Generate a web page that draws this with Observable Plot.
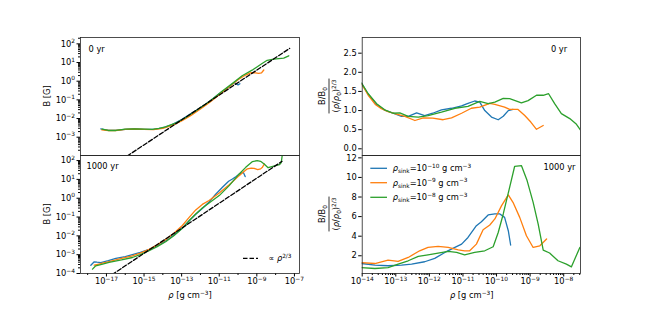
<!DOCTYPE html>
<html>
<head>
<meta charset="utf-8">
<script src="https://cdn.jsdelivr.net/npm/d3@7"></script>
<script src="https://cdn.jsdelivr.net/npm/@observablehq/plot@0.6"></script>
<style>
  html, body { margin: 0; padding: 0; background: #fff; }
  #fig { position: relative; width: 645px; height: 312px; background: #fff; overflow: hidden; font-family: "DejaVu Sans", sans-serif; }
  #fig svg { position: absolute; overflow: visible; background: transparent; }
</style>
</head>
<body>
<div id="fig"></div>
<script>
// ---------- DATA (log10 of density in g cm^-3; log10 of B in G, or B/B0 ratio) ----------
const seriesNames = ["rho_sink=1e-10", "rho_sink=1e-9", "rho_sink=1e-8"];
const seriesColors = ["#1f77b4", "#ff7f0e", "#2ca02c"];
const legendExponents = ["−10", "−9", "−8"];

// Panel: B vs rho, 0 yr
const b0_logRho_m10 = [-17.3,-16.9,-16.5,-16.0,-15.5,-15.0,-14.5,-14.0,-13.5,-13.0,-12.5,-12.0,-11.5,-11.0,-10.5,-10.2,-10.0,-9.9];
const b0_logB_m10   = [-2.55,-2.63,-2.63,-2.58,-2.56,-2.58,-2.58,-2.50,-2.33,-2.05,-1.74,-1.42,-1.07,-0.67,-0.31,-0.08,-0.20,-0.14];
const b0_logRho_m9  = [-17.25,-16.9,-16.5,-16.0,-15.5,-15.0,-14.5,-14.0,-13.5,-13.0,-12.5,-12.0,-11.5,-11.0,-10.5,-10.0,-9.6,-9.3,-9.07,-8.9,-8.75,-8.63];
const b0_logB_m9    = [-2.60,-2.64,-2.64,-2.58,-2.56,-2.58,-2.59,-2.53,-2.37,-2.13,-1.83,-1.49,-1.13,-0.72,-0.33,0.08,0.33,0.46,0.45,0.42,0.44,0.60];
const b0_logRho_m8  = [-17.23,-16.9,-16.5,-16.0,-15.5,-15.0,-14.57,-14.2,-13.86,-13.33,-12.8,-12.27,-11.56,-10.85,-10.31,-9.78,-9.25,-8.72,-8.45,-8.1,-7.83,-7.57,-7.30];
const b0_logB_m8    = [-2.57,-2.64,-2.64,-2.57,-2.55,-2.57,-2.58,-2.53,-2.45,-2.25,-1.96,-1.61,-1.11,-0.54,-0.13,0.29,0.59,0.95,1.12,1.18,1.21,1.24,1.36];
const ref0_logRho   = [-16.2, -7.25];
const ref0_logB     = [-4.21, 1.76];

// Panel: B vs rho, 1000 yr
const b1_logRho_m10 = [-17.83,-17.65,-17.5,-17.3,-16.9,-16.5,-16.0,-15.62,-15.2,-14.73,-14.3,-13.85,-13.4,-12.96,-12.6,-12.25,-11.9,-11.54,-11.2,-10.83,-10.5,-10.3,-10.1,-9.94,-9.85,-9.72,-9.62];
const b1_logB_m10   = [-3.56,-3.38,-3.40,-3.42,-3.32,-3.20,-3.10,-3.00,-2.88,-2.72,-2.52,-2.27,-1.95,-1.58,-1.20,-0.85,-0.55,-0.20,0.20,0.58,0.90,1.02,1.15,1.28,1.32,1.38,1.15];
const b1_logRho_m9  = [-17.65,-17.4,-17.21,-16.8,-16.2,-15.62,-15.2,-14.73,-14.3,-13.85,-13.4,-12.96,-12.6,-12.25,-11.9,-11.54,-11.0,-10.47,-9.94,-9.7,-9.5,-9.3,-9.14,-8.95,-8.8,-8.7,-8.6];
const b1_logB_m9    = [-3.56,-3.50,-3.45,-3.35,-3.20,-3.06,-2.92,-2.72,-2.48,-2.20,-1.85,-1.45,-1.02,-0.62,-0.33,-0.12,0.28,0.72,1.20,1.40,1.56,1.60,1.59,1.52,1.56,1.65,1.82];
const b1_logRho_m8  = [-17.74,-17.57,-17.2,-16.86,-16.2,-15.62,-15.2,-14.73,-14.3,-13.85,-13.4,-12.96,-12.6,-12.25,-11.9,-11.54,-11.0,-10.47,-9.94,-9.59,-9.23,-8.98,-8.8,-8.61,-8.4,-8.2,-8.0,-7.8,-7.7,-7.62];
const b1_logB_m8    = [-3.77,-3.59,-3.50,-3.41,-3.28,-3.15,-3.00,-2.79,-2.57,-2.31,-1.98,-1.60,-1.20,-0.84,-0.52,-0.25,0.14,0.67,1.29,1.64,1.95,2.00,1.96,1.82,1.62,1.68,1.73,1.78,1.90,2.50];
const ref1_logRho   = [-17.0, -7.66];
const ref1_logB     = [-4.26, 1.96];

// Panel: normalised B, 0 yr
const n0_logRho_m10 = [-14.02,-13.82,-13.57,-13.33,-13.08,-12.83,-12.63,-12.38,-12.14,-11.9,-11.64,-11.34,-11.04,-10.85,-10.65,-10.50,-10.35,-10.15,-9.95,-9.80,-9.65,-9.51];
const n0_val_m10    = [1.72,1.42,1.16,1.01,0.93,0.85,0.85,0.94,0.87,0.93,1.02,1.06,1.12,1.19,1.25,1.22,1.00,0.83,0.76,0.85,1.00,1.03];
const n0_logRho_m9  = [-14.02,-13.82,-13.6,-13.43,-13.23,-13.03,-12.73,-12.43,-12.18,-11.9,-11.59,-11.34,-11.04,-10.75,-10.50,-10.20,-10.05,-9.76,-9.61,-9.36,-9.16,-8.98,-8.81,-8.61];
const n0_val_m9     = [1.70,1.40,1.15,1.05,0.97,0.92,0.85,0.74,0.81,0.80,0.76,0.81,0.93,1.06,1.09,1.19,1.16,1.09,1.03,1.03,0.87,0.70,0.51,0.61];
const n0_logRho_m8  = [-14.02,-13.82,-13.57,-13.33,-13.08,-12.88,-12.63,-12.33,-12.04,-11.64,-11.24,-10.85,-10.50,-10.25,-10.05,-9.80,-9.61,-9.26,-9.06,-8.81,-8.61,-8.45,-8.27,-8.07,-7.82,-7.62,-7.49];
const n0_val_m8     = [1.72,1.44,1.18,1.02,0.93,0.94,0.85,0.83,0.87,0.96,1.06,1.11,1.24,1.18,1.22,1.32,1.31,1.20,1.26,1.40,1.40,1.44,1.18,0.92,0.79,0.64,0.48];

// Panel: normalised B, 1000 yr
const n1_logRho_m10 = [-14.02,-13.62,-13.23,-12.83,-12.53,-12.14,-11.84,-11.54,-11.24,-11.04,-10.85,-10.60,-10.45,-10.25,-10.05,-9.90,-9.76,-9.65,-9.58];
const n1_val_m10    = [1.21,1.05,0.98,1.05,1.15,1.39,1.73,2.34,2.85,3.19,3.87,5.07,5.48,6.17,6.27,6.27,5.92,4.56,3.10];
const n1_logRho_m9  = [-14.02,-13.62,-13.23,-12.93,-12.63,-12.29,-12.04,-11.74,-11.44,-11.14,-10.95,-10.80,-10.60,-10.40,-10.20,-10.05,-9.85,-9.65,-9.51,-9.31,-9.11,-8.91,-8.71,-8.51];
const n1_val_m9     = [1.31,1.21,1.56,1.42,1.83,2.51,2.85,2.95,2.85,2.61,2.51,2.51,3.19,4.66,5.14,5.76,7.12,8.21,7.46,5.92,4.05,2.85,3.02,3.71];
const n1_logRho_m8  = [-14.02,-13.62,-13.23,-12.93,-12.63,-12.33,-12.04,-11.74,-11.44,-11.19,-10.95,-10.65,-10.35,-10.10,-9.95,-9.80,-9.61,-9.46,-9.26,-9.09,-8.91,-8.76,-8.61,-8.42,-8.17,-7.92,-7.77,-7.52];
const n1_val_m8     = [0.80,0.70,0.80,1.15,1.49,1.93,2.10,2.28,2.44,2.34,2.10,2.34,2.51,2.92,4.38,6.27,8.99,11.14,11.21,9.68,7.46,5.24,2.58,2.28,1.49,1.15,0.87,2.85];

// Tick values
const leftXTickExp   = [-17,-15,-13,-11,-9,-7];
const leftXMinorExp  = [-18,-16,-14,-12,-10,-8];
const leftYTopExp    = [-3,-2,-1,0,1,2];
const leftYBotExp    = [-4,-3,-2,-1,0,1,2];
const rightXTickExp  = [-14,-13,-12,-11,-10,-9,-8];
const rightTopYTicks = [0, 0.5, 1.0, 1.5, 2.0, 2.5];
const rightBotYTicks = [2, 4, 6, 8, 10, 12];
const panelLabels = ["0 yr", "1000 yr"];

// ---------- HELPERS ----------
const fig = document.getElementById("fig");
const logRows = (lx, ly) => lx.map((v, i) => ({x: 10 ** v, y: 10 ** ly[i]}));
const linRows = (lx, vy) => lx.map((v, i) => ({x: 10 ** v, y: vy[i]}));
const powFmt = v => "10^" + Math.round(Math.log10(v));
const minorLog = (e0, e1, lo, hi) => {
  const out = [];
  for (let e = e0; e <= e1; e++) for (let k = 2; k <= 9; k++) { const v = k * 10 ** e; if (v >= lo && v <= hi) out.push(v); }
  return out;
};
const STYLE = {fontFamily: "DejaVu Sans", fontSize: "8.3px", background: "transparent", color: "black", overflow: "visible"};
const FRAME = Plot.frame({stroke: "#222", strokeWidth: 0.8});
const seriesLines = (rowsList) => rowsList.map((r, i) =>
  Plot.line(r, {x: "x", y: "y", stroke: seriesColors[i], strokeWidth: 1.3, clip: true}));

function place(svg, left, top) {
  svg.style.position = "absolute";
  svg.style.left = left + "px";
  svg.style.top = top + "px";
  fig.appendChild(svg);
  mathify(svg);
  return svg;
}
function mathify(svg) {
  d3.select(svg).selectAll("text").each(function () {
    const m = /^10\^(-?\d+)$/.exec(this.textContent);
    if (!m) return;
    const e = m[1].replace("-", "−");
    const t = d3.select(this);
    t.text("");
    t.append("tspan").text("10");
    t.append("tspan").attr("dy", "-3.4").attr("font-size", "5.9px").text(e);
  });
}

// ---------- PANELS ----------
const xDomL = [10 ** -18.38, 10 ** -6.73];
const xDomR = [1e-14, 10 ** -7.5];

// Left top: B, 0 yr
place(Plot.plot({
  width: 330, height: 160, marginLeft: 80, marginRight: 31, marginTop: 37, marginBottom: 5,
  style: STYLE,
  x: {type: "log", domain: xDomL, axis: null},
  y: {type: "log", domain: [10 ** -3.98, 10 ** 2.34], axis: null},
  marks: [
    ...seriesLines([logRows(b0_logRho_m10, b0_logB_m10), logRows(b0_logRho_m9, b0_logB_m9), logRows(b0_logRho_m8, b0_logB_m8)]),
    Plot.line(logRows(ref0_logRho, ref0_logB), {x: "x", y: "y", stroke: "black", strokeWidth: 1.3, strokeDasharray: "4.5,2", clip: true}),
    Plot.axisY(leftYTopExp.map(e => 10 ** e), {tickFormat: powFmt, tickSize: 3.5, tickPadding: 2, label: null}),
    Plot.axisY(minorLog(-4, 2, 10 ** -3.98, 10 ** 2.34), {tickFormat: () => "", tickSize: 2, label: null}),
    FRAME,
    Plot.text([panelLabels[0]], {text: d => d, frameAnchor: "top-left", dx: 8, dy: 12, lineAnchor: "middle", textAnchor: "start", fontSize: 8.3})
  ]
}), 0, 0);

// Left bottom: B, 1000 yr
place(Plot.plot({
  width: 330, height: 162, marginLeft: 80, marginRight: 31, marginTop: 5, marginBottom: 39,
  style: STYLE,
  x: {type: "log", domain: xDomL, axis: null},
  y: {type: "log", domain: [1e-4, 10 ** 2.27], axis: null},
  marks: [
    ...seriesLines([logRows(b1_logRho_m10, b1_logB_m10), logRows(b1_logRho_m9, b1_logB_m9), logRows(b1_logRho_m8, b1_logB_m8)]),
    Plot.line(logRows(ref1_logRho, ref1_logB), {x: "x", y: "y", stroke: "black", strokeWidth: 1.3, strokeDasharray: "4.5,2", clip: true}),
    Plot.axisY(leftYBotExp.map(e => 10 ** e), {tickFormat: powFmt, tickSize: 3.5, tickPadding: 2, label: null}),
    Plot.axisY(minorLog(-4, 2, 1e-4, 10 ** 2.27), {tickFormat: () => "", tickSize: 2, label: null}),
    Plot.axisX(leftXTickExp.map(e => 10 ** e), {tickFormat: powFmt, tickSize: 3.5, tickPadding: 1.5, label: null}),
    Plot.axisX(leftXMinorExp.map(e => 10 ** e), {tickFormat: () => "", tickSize: 2, label: null}),
    FRAME,
    Plot.text([panelLabels[1]], {text: d => d, frameAnchor: "top-left", dx: 6, dy: 10.7, lineAnchor: "middle", textAnchor: "start", fontSize: 8.3})
  ]
}), 0, 150);

// Right top: normalised, 0 yr
place(Plot.plot({
  width: 315, height: 160, marginLeft: 31.7, marginRight: 65, marginTop: 37, marginBottom: 5,
  style: STYLE,
  x: {type: "log", domain: xDomR, axis: null},
  y: {type: "linear", domain: [-0.175, 2.91], axis: null},
  marks: [
    ...seriesLines([linRows(n0_logRho_m10, n0_val_m10), linRows(n0_logRho_m9, n0_val_m9), linRows(n0_logRho_m8, n0_val_m8)]),
    Plot.axisY(rightTopYTicks, {tickFormat: d3.format(".1f"), tickSize: 3.5, tickPadding: 2, label: null}),
    FRAME,
    Plot.text([panelLabels[0]], {text: d => d, frameAnchor: "top-right", dx: -13.3, dy: 12, lineAnchor: "middle", textAnchor: "end", fontSize: 8.3})
  ]
}), 330, 0);

// Right bottom: normalised, 1000 yr
place(Plot.plot({
  width: 315, height: 162, marginLeft: 31.7, marginRight: 65, marginTop: 5, marginBottom: 39,
  style: STYLE,
  x: {type: "log", domain: xDomR, axis: null},
  y: {type: "linear", domain: [0.19, 12.24], axis: null},
  marks: [
    ...seriesLines([linRows(n1_logRho_m10, n1_val_m10), linRows(n1_logRho_m9, n1_val_m9), linRows(n1_logRho_m8, n1_val_m8)]),
    Plot.axisY(rightBotYTicks, {tickFormat: d => String(d), tickSize: 3.5, tickPadding: 2, label: null}),
    Plot.axisX(rightXTickExp.map(e => 10 ** e), {tickFormat: powFmt, tickSize: 3.5, tickPadding: 1.5, label: null}),
    Plot.axisX(minorLog(-14, -8, 1e-14, 10 ** -7.5), {tickFormat: () => "", tickSize: 2, label: null}),
    FRAME,
    Plot.text([panelLabels[1]], {text: d => d, frameAnchor: "top-right", dx: -5, dy: 11.7, lineAnchor: "middle", textAnchor: "end", fontSize: 8.3})
  ]
}), 330, 150);

// ---------- OVERLAY: axis labels and legends (rich text) ----------
const ov = d3.select(fig).append("svg")
  .attr("width", 645).attr("height", 312)
  .style("left", "0px").style("top", "0px").style("pointer-events", "none");

function rich(g, parts, x, y, anchor, size = 8.3) {
  const t = g.append("text").attr("x", x).attr("y", y).attr("text-anchor", anchor)
    .attr("font-family", "DejaVu Sans").attr("font-size", size).attr("fill", "black");
  let cur = 0;
  for (const [s, k] of parts) {
    const ts = t.append("tspan").text(s);
    let shift = 0, fs = size;
    if (k === "sup") { shift = -0.4 * size; fs = 0.7 * size; }
    if (k === "sub") { shift = 0.22 * size; fs = 0.7 * size; }
    if (k === "i") ts.attr("font-style", "italic");
    ts.attr("font-size", fs);
    if (shift - cur !== 0) ts.attr("dy", shift - cur);
    cur = shift;
  }
  return t;
}

// y labels (left)
for (const cy of [96, 214]) {
  const g = ov.append("g").attr("transform", `translate(50,${cy}) rotate(-90)`);
  rich(g, [["B [G]", ""]], 0, 0, "middle");
}
// y labels (right) as fraction
for (const cy of [96, 214]) {
  const g = ov.append("g").attr("transform", `translate(329,${cy}) rotate(-90)`);
  rich(g, [["B/B", ""], ["0", "sub"]], 0, -4, "middle");
  const den = rich(g, [["(", ""], ["ρ", "i"], ["/", ""], ["ρ", "i"], ["0", "sub"], [")", ""], ["2/3", "sup"]], 0, 10, "middle");
  const w = den.node().getComputedTextLength();
  g.append("line").attr("x1", -w / 2 - 1).attr("x2", w / 2 + 1).attr("y1", 0).attr("y2", 0)
    .attr("stroke", "black").attr("stroke-width", 0.8);
}
// x labels
for (const cx of [190, 471.7]) {
  rich(ov, [["ρ", "i"], [" [g cm", ""], ["−3", "sup"], ["]", ""]], cx, 298, "middle");
}
// left legend: power law
ov.append("line").attr("x1", 243).attr("x2", 258).attr("y1", 258.3).attr("y2", 258.3)
  .attr("stroke", "black").attr("stroke-width", 1.3).attr("stroke-dasharray", "4.5,2");
rich(ov, [["∝ ", ""], ["ρ", "i"], ["2/3", "sup"]], 268.3, 261.3, "start");
// right legend: series
const legY = [168.3, 182.7, 197.3];
seriesNames.forEach((name, i) => {
  ov.append("line").attr("x1", 370.3).attr("x2", 387).attr("y1", legY[i]).attr("y2", legY[i])
    .attr("stroke", seriesColors[i]).attr("stroke-width", 1.3);
  rich(ov, [["ρ", "i"], ["sink", "sub"], ["=10", ""], [legendExponents[i], "sup"], [" g cm", ""], ["−3", "sup"]],
    392.7, legY[i] + 3, "start");
});
</script>
</body>
</html>
